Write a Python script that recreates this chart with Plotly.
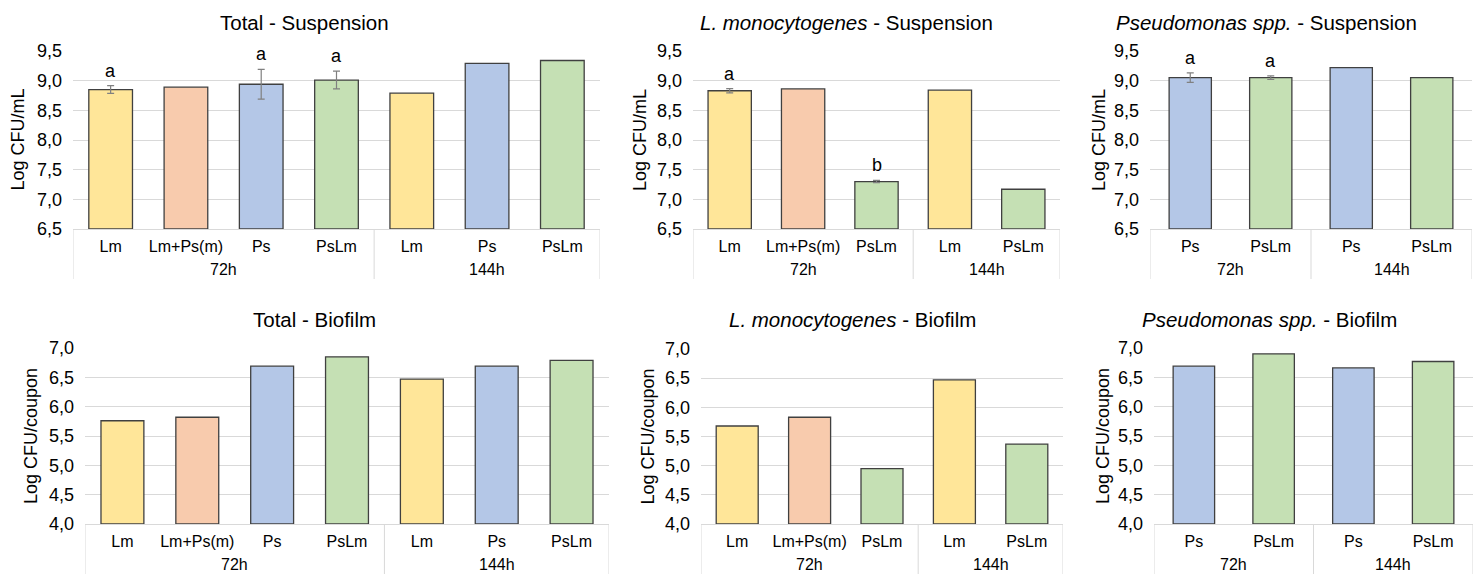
import plotly.graph_objects as go

W, H = 1481, 574

# ---------------- data ----------------
ts_cats = ["Lm", "Lm+Ps(m)", "Ps", "PsLm", "Lm", "Ps", "PsLm"]
ts_groups = ["72h", "72h", "72h", "72h", "144h", "144h", "144h"]
ts_vals = [8.85, 8.89, 8.94, 9.01, 8.79, 9.29, 9.34]
ts_err = [0.065, None, 0.25, 0.15, None, None, None]
ts_letters = ["a", "", "a", "a", "", "", ""]

ls_cats = ["Lm", "Lm+Ps(m)", "PsLm", "Lm", "PsLm"]
ls_groups = ["72h", "72h", "72h", "144h", "144h"]
ls_vals = [8.83, 8.86, 7.30, 8.84, 7.17]
ls_err = [0.035, None, 0.02, None, None]
ls_letters = ["a", "", "b", "", ""]

ps_cats = ["Ps", "PsLm", "Ps", "PsLm"]
ps_groups = ["72h", "72h", "144h", "144h"]
ps_vals = [9.05, 9.05, 9.22, 9.05]
ps_err = [0.08, 0.03, None, None]
ps_letters = ["a", "a", "", ""]

tb_cats = ["Lm", "Lm+Ps(m)", "Ps", "PsLm", "Lm", "Ps", "PsLm"]
tb_groups = ["72h", "72h", "72h", "72h", "144h", "144h", "144h"]
tb_vals = [5.76, 5.82, 6.69, 6.85, 6.47, 6.69, 6.79]

lb_cats = ["Lm", "Lm+Ps(m)", "PsLm", "Lm", "PsLm"]
lb_groups = ["72h", "72h", "72h", "144h", "144h"]
lb_vals = [5.68, 5.83, 4.95, 6.47, 5.37]

pb_cats = ["Ps", "PsLm", "Ps", "PsLm"]
pb_groups = ["72h", "72h", "144h", "144h"]
pb_vals = [6.69, 6.90, 6.66, 6.77]

susp_range = [6.5, 9.5]
bio_range = [4.0, 7.0]

# ---------------- style ----------------
COLORS = {"Lm": "#FFE699", "Lm+Ps(m)": "#F8CBAD", "Ps": "#B4C7E7", "PsLm": "#C5E0B4"}
GRID = "#d9d9d9"
FONT = "Liberation Sans, Arial, Helvetica, sans-serif"

panels = [
    dict(title="Total - Suspension", cats=ts_cats, groups=ts_groups, vals=ts_vals, err=ts_err,
         letters=ts_letters, yr=susp_range, ytitle="Log CFU/mL",
         px=(73, 600), py=(51, 229), bw=0.58, tx=304, ty=22, yx=17.5),
    dict(title="<i>L. monocytogenes</i> - Suspension", cats=ls_cats, groups=ls_groups, vals=ls_vals,
         err=ls_err, letters=ls_letters, yr=susp_range, ytitle="Log CFU/mL",
         px=(693, 1060), py=(51, 229), bw=0.59, tx=846, ty=22, yx=640),
    dict(title="<i>Pseudomonas spp.</i> - Suspension", cats=ps_cats, groups=ps_groups, vals=ps_vals,
         err=ps_err, letters=ps_letters, yr=susp_range, ytitle="Log CFU/mL",
         px=(1150, 1472), py=(51, 229), bw=0.525, tx=1266, ty=22, yx=1099),
    dict(title="Total - Biofilm", cats=tb_cats, groups=tb_groups, vals=tb_vals, err=None,
         letters=None, yr=bio_range, ytitle="Log CFU/coupon",
         px=(85, 609), py=(348, 524), bw=0.573, tx=314.5, ty=319, yx=31),
    dict(title="<i>L. monocytogenes</i> - Biofilm", cats=lb_cats, groups=lb_groups, vals=lb_vals,
         err=None, letters=None, yr=bio_range, ytitle="Log CFU/coupon",
         px=(701, 1063), py=(349, 524), bw=0.58, tx=852, ty=319, yx=647),
    dict(title="<i>Pseudomonas spp.</i> - Biofilm", cats=pb_cats, groups=pb_groups, vals=pb_vals,
         err=None, letters=None, yr=bio_range, ytitle="Log CFU/coupon",
         px=(1154, 1473), py=(348, 524), bw=0.52, tx=1269, ty=319, yx=1103),
]

fig = go.Figure()
annotations = []
shapes = []


def xp(v):
    return v / W


def yp(v):
    return 1 - v / H


for i, p in enumerate(panels, start=1):
    xa = "x" if i == 1 else f"x{i}"
    ya = "y" if i == 1 else f"y{i}"
    n = len(p["cats"])
    pos = list(range(n))
    fig.add_trace(go.Bar(
        x=pos, y=[v - p["yr"][0] for v in p["vals"]], base=p["yr"][0],
        xaxis=xa, yaxis=ya, width=p["bw"],
        marker=dict(color=[COLORS[c] for c in p["cats"]], line=dict(color="#404040", width=1.3)),
        showlegend=False, hoverinfo="skip",
    ))
    # error bars only where a standard deviation exists
    if p["err"] is not None:
        idx = [k for k, e in enumerate(p["err"]) if e is not None]
        fig.add_trace(go.Scatter(
            x=idx, y=[p["vals"][k] for k in idx], xaxis=xa, yaxis=ya, mode="markers",
            marker=dict(size=1, opacity=0),
            error_y=dict(type="data", array=[p["err"][k] for k in idx], visible=True,
                         color="#808080", thickness=1.2, width=3.5),
            showlegend=False, hoverinfo="skip",
        ))

    lk = "xaxis" if i == 1 else f"xaxis{i}"
    lky = "yaxis" if i == 1 else f"yaxis{i}"
    fig.layout[lk] = dict(
        domain=[xp(p["px"][0]), xp(p["px"][1])], anchor=ya, automargin=False,
        range=[-0.5, n - 0.5], tickmode="array", tickvals=pos, ticktext=p["cats"],
        showgrid=False, zeroline=False, showline=True, linecolor=GRID, linewidth=1,
        ticks="", tickfont=dict(size=16, color="#000000", family=FONT), ticklabelstandoff=3,
        fixedrange=True,
    )
    fig.layout[lky] = dict(
        domain=[yp(p["py"][1]), yp(p["py"][0])], anchor=xa, automargin=False,
        range=p["yr"], dtick=0.5, tick0=p["yr"][0], tickformat=".1f",
        showgrid=True, gridcolor=GRID, gridwidth=1, zeroline=False, showline=False,
        ticks="", tickfont=dict(size=18, color="#000000", family=FONT), ticklabelstandoff=10,
        fixedrange=True,
    )

    # title
    annotations.append(dict(text=p["title"], x=xp(p["tx"]), y=yp(p["ty"]), xref="paper", yref="paper",
                            xanchor="center", yanchor="middle", showarrow=False,
                            font=dict(size=20.5, color="#000000", family=FONT)))
    # y title
    annotations.append(dict(text=p["ytitle"], x=xp(p["yx"]), y=yp((p["py"][0] + p["py"][1]) / 2),
                            xref="paper", yref="paper", textangle=-90,
                            xanchor="center", yanchor="middle", showarrow=False,
                            font=dict(size=18, color="#000000", family=FONT)))
    # group labels and dividers
    bottom = p["py"][1]
    groups = p["groups"]
    starts = [0] + [k for k in range(1, n) if groups[k] != groups[k - 1]]
    ends = starts[1:] + [n]
    for s, e in zip(starts, ends):
        annotations.append(dict(text=groups[s], x=(s + e - 1) / 2, y=yp(bottom + 40),
                                xref=xa, yref="paper", xanchor="center", yanchor="middle",
                                showarrow=False, font=dict(size=16, color="#000000", family=FONT)))
    for b in starts + [n]:
        shapes.append(dict(type="line", xref=xa, yref="paper", x0=b - 0.5, x1=b - 0.5,
                           y0=yp(bottom), y1=yp(bottom + 50), line=dict(color=GRID, width=1)))
    # significance letters
    if p["letters"] is not None:
        for k, (lt, v, e) in enumerate(zip(p["letters"], p["vals"], p["err"])):
            if lt:
                annotations.append(dict(text=lt, x=k, y=v + (e or 0), xref=xa, yref=ya,
                                        xanchor="center", yanchor="bottom", yshift=3, showarrow=False,
                                        font=dict(size=18, color="#000000", family=FONT)))

fig.update_layout(
    width=W, height=H, autosize=False,
    margin=dict(l=0, r=0, t=0, b=0, pad=0),
    paper_bgcolor="white", plot_bgcolor="white",
    separators=",.", bargap=0,
    annotations=annotations, shapes=shapes,
    font=dict(family=FONT, color="#000000"),
)

fig.write_html(
    "out.html",
    config={"displayModeBar": False, "staticPlot": True},
    post_script="document.body.style.margin='0';document.body.style.overflow='hidden';",
)
